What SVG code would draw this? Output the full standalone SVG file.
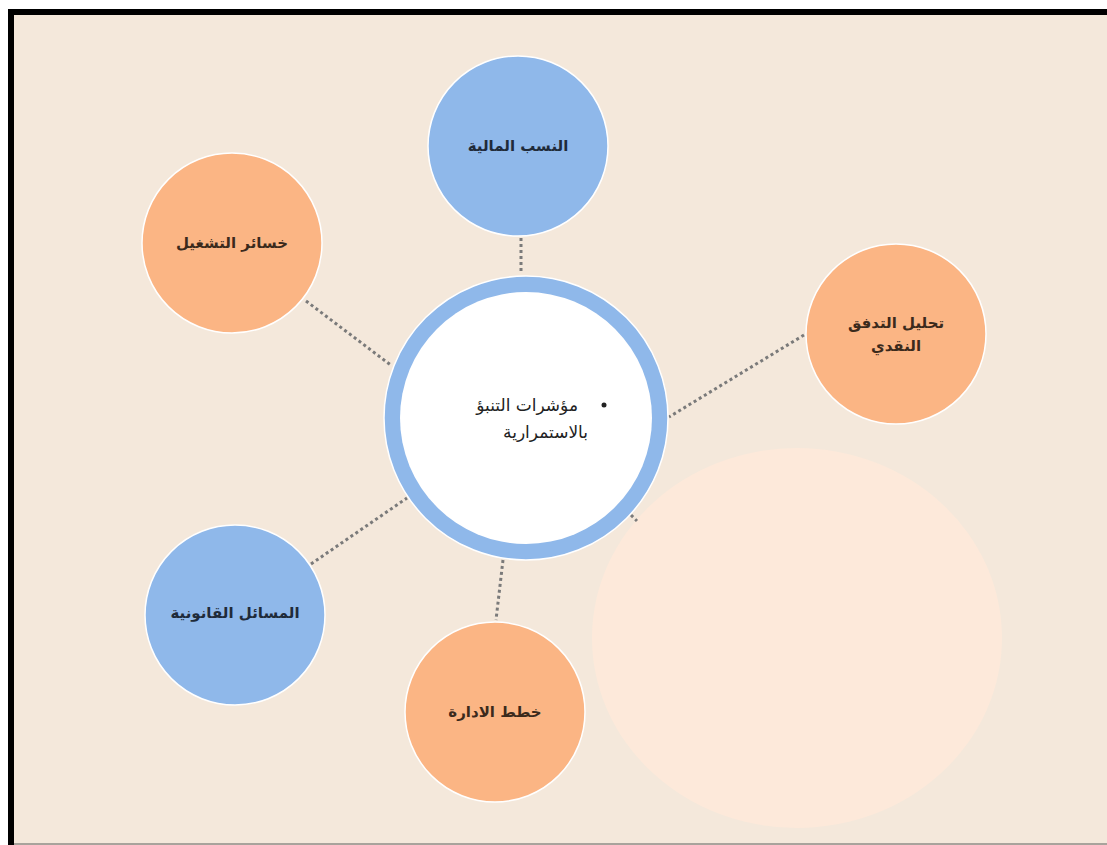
<svg xmlns="http://www.w3.org/2000/svg" width="1107" height="845" viewBox="0 0 1107 845">
  <style>
    .blue { fill: #8fb8ea; stroke: #ffffff; stroke-width: 1.5; }
    .orange { fill: #fbb584; stroke: #ffffff; stroke-width: 1.5; }
    .link { stroke: #7a7a7a; stroke-width: 3; stroke-dasharray: 3 3; fill: none; }
    .lbl { font-family: "DejaVu Sans", "Noto Sans", sans-serif; font-size: 15px; font-weight: bold; text-anchor: middle; dominant-baseline: central; }
    .lbl-b { fill: #1f2b3a; }
    .lbl-o { fill: #3b2a1c; }
    .core { font-family: "DejaVu Sans", "Noto Sans", sans-serif; font-size: 17px; fill: #222222; text-anchor: end; }
  </style>

  <!-- page frame -->
  <rect x="0" y="0" width="1107" height="845" fill="#ffffff"/>
  <rect x="11" y="12" width="1100" height="833" fill="#f4e8db"/>
  <line x1="8" y1="12" x2="1107" y2="12" stroke="#000000" stroke-width="6"/>
  <line x1="11" y1="9" x2="11" y2="845" stroke="#000000" stroke-width="6"/>
  <line x1="14" y1="844" x2="1107" y2="844" stroke="#a8a39c" stroke-width="2"/>

  <!-- soft background disc -->
  <ellipse cx="797" cy="638" rx="205" ry="190" fill="#fde9da"/>

  <g id="connectors">
    <line class="link" x1="521" y1="238" x2="521" y2="274"/>
    <line class="link" x1="306" y1="301" x2="392" y2="366"/>
    <line class="link" x1="804" y1="335" x2="669" y2="417"/>
    <line class="link" x1="311" y1="564" x2="407" y2="498"/>
    <line class="link" x1="503" y1="560" x2="496" y2="620"/>
    <line class="link" x1="631" y1="515" x2="637" y2="521"/>
  </g>

  <g id="node-center">
    <circle cx="526" cy="418" r="142" fill="#8fb8ea" stroke="#ffffff" stroke-width="1.5"/>
    <circle cx="526" cy="418" r="126" fill="#ffffff"/>
    <circle cx="604" cy="405" r="2.5" fill="#222222"/>
    <text class="core" x="578" y="411">مؤشرات التنبؤ</text>
    <text class="core" x="588" y="438">بالاستمرارية</text>
  </g>

  <g id="node-ratios">
    <circle class="blue" cx="518" cy="146" r="90"/>
    <text class="lbl lbl-b" x="518" y="146">النسب المالية</text>
  </g>

  <g id="node-losses">
    <circle class="orange" cx="232" cy="243" r="90"/>
    <text class="lbl lbl-o" x="232" y="243">خسائر التشغيل</text>
  </g>

  <g id="node-cashflow">
    <circle class="orange" cx="896" cy="334" r="90"/>
    <text class="lbl lbl-o" x="896" y="323">تحليل التدفق</text>
    <text class="lbl lbl-o" x="896" y="346">النقدي</text>
  </g>

  <g id="node-legal">
    <circle class="blue" cx="235" cy="615" r="90"/>
    <text class="lbl lbl-b" x="235" y="613">المسائل القانونية</text>
  </g>

  <g id="node-plans">
    <circle class="orange" cx="495" cy="712" r="90"/>
    <text class="lbl lbl-o" x="495" y="712">خطط الادارة</text>
  </g>
</svg>
